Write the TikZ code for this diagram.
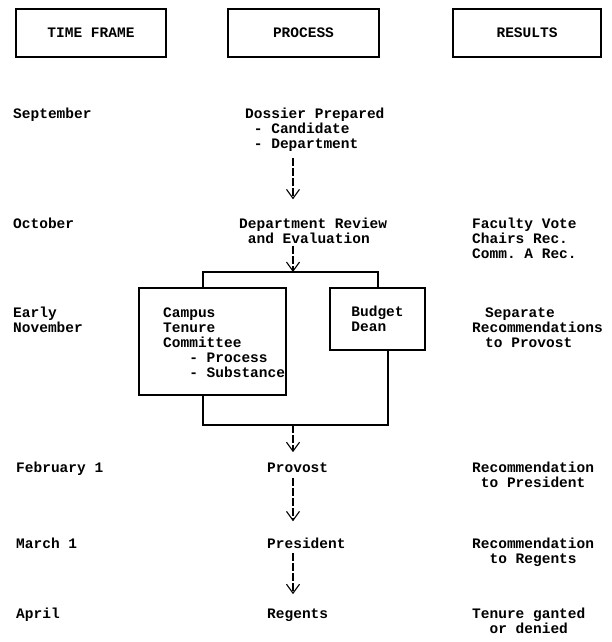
\documentclass[tikz,border=0pt]{standalone}
\usepackage{fontspec}
\setmonofont{Liberation Mono}
\usetikzlibrary{arrows.meta,calc}

\begin{document}
\begin{tikzpicture}[x=1pt,y=-1pt,
  every node/.style={font=\ttfamily\bfseries\fontsize{14.5}{15}\selectfont, inner sep=0pt},
  frame/.style={draw, line width=1.1pt},
  rule/.style={line width=1.1pt},
  flow/.style={line width=1.1pt, dash pattern=on 8pt off 2pt, -{Straight Barb[length=9pt,width=13pt]}}]
  \useasboundingbox (0,0) rectangle (612,642);

  \node[frame, minimum width=150pt, minimum height=48pt] (timeframe) at (91,33) {TIME FRAME};
  \node[frame, minimum width=151pt, minimum height=48pt] (process) at (303.5,33) {PROCESS};
  \node[frame, minimum width=148pt, minimum height=48pt] (results) at (527,33) {RESULTS};

  \coordinate (spine) at (293,0);

  % multi-line nodes sit on the baseline of their last line
  \node[anchor=base west] (sep) at (13,118) {September};
  \node[anchor=base west, align=left] (dossier) at (245,148) {Dossier Prepared\\\phantom{x}- Candidate\\\phantom{x}- Department};

  \node[anchor=base west] (oct) at (13,228) {October};
  \node[anchor=base west, align=left] (review) at (239,243) {Department Review\\\phantom{x}and Evaluation};
  \node[anchor=base west, align=left] (vote) at (472,258) {Faculty Vote\\Chairs Rec.\\Comm. A Rec.};

  \coordinate (split) at (293,272);
  \coordinate (splitl) at (203,272);
  \coordinate (splitr) at (378,272);

  \node[anchor=base west, align=left] (nov) at (13,332) {Early\\November};
  \node[frame, minimum width=147pt, minimum height=107pt] (campus) at (212.5,341.5) {};
  \node[anchor=base west, align=left] (campustext) at (163,377) {Campus\\Tenure\\Committee\\\phantom{xxx}- Process\\\phantom{xxx}- Substance};
  \node[frame, align=left, minimum width=95pt, minimum height=62pt] (budget) at (377.5,319) {Budget\\Dean};
  \node[anchor=base west, align=left] (separate) at (472,347) {\hspace*{13pt}Separate\\Recommendations\\\hspace*{13pt}to Provost};

  \coordinate (joinl) at (203,425);
  \coordinate (joinr) at (388,425);
  \coordinate (join) at (293,425);

  \node[anchor=base west] (feb) at (16,472) {February 1};
  \node[anchor=base west] (provost) at (267,472) {Provost};
  \node[anchor=base west, align=center] (recpres) at (472,487) {Recommendation\\to President};

  \node[anchor=base west] (mar) at (16,548) {March 1};
  \node[anchor=base west] (president) at (267,548) {President};
  \node[anchor=base west, align=center] (recreg) at (472,563) {Recommendation\\to Regents};

  \node[anchor=base west] (apr) at (16,618) {April};
  \node[anchor=base west] (regents) at (267,618) {Regents};
  \node[anchor=base west, align=center] (tenure) at (472,633) {Tenure ganted\\or denied};

  \draw[flow, shorten <=7pt, shorten >=18pt] (dossier.south -| spine) -- (review.north -| spine);
  \draw[flow, shorten <=3pt] (review.south -| spine) -- (split);
  \draw[rule] (campus.north -| splitl) -- (splitl) -- (splitr) -- (budget.north -| splitr);
  \draw[rule] (campus.south -| joinl) -- (joinl) -- (joinr) -- (budget.south -| joinr);
  \draw[flow, shorten >=10pt] (join) -- (provost.north -| spine);
  \draw[flow, shorten <=6pt, shorten >=16pt] (provost.south -| spine) -- (president.north -| spine);
  \draw[flow, shorten <=5pt, shorten >=14pt] (president.south -| spine) -- (regents.north -| spine);
\end{tikzpicture}
\end{document}
